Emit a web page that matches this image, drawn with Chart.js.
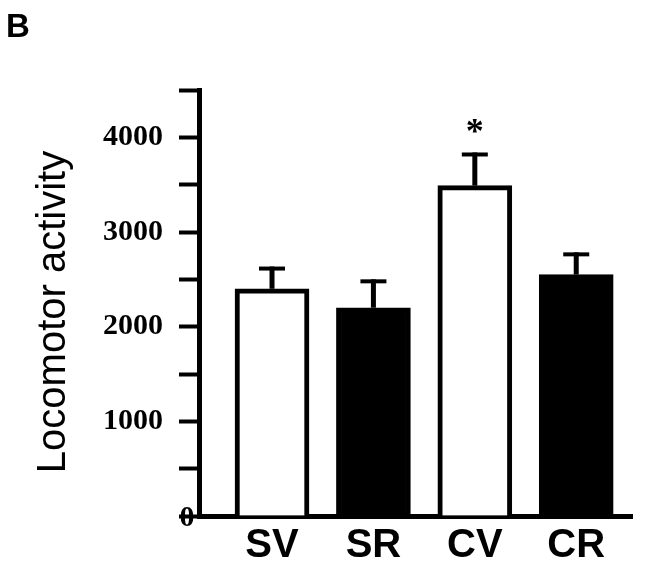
<!DOCTYPE html>
<html>
<head>
<meta charset="utf-8">
<script src="https://cdn.jsdelivr.net/npm/chart.js@4/dist/chart.umd.min.js"></script>
<style>
  html, body { margin: 0; padding: 0; background: #fff; }
  #wrap { width: 650px; height: 570px; position: relative; }
</style>
</head>
<body>
<div id="wrap"><canvas id="barChart"></canvas></div>
<script>
// Locomotor activity per group (mean + SEM)
const categories = ['SV', 'SR', 'CV', 'CR'];
const means = [2400, 2200, 3490, 2550];
const sems = [235, 300, 350, 235];
const fills = ['#ffffff', '#000000', '#ffffff', '#000000'];
const significant = [false, false, true, false];

const yMax = 4500;
const yStep = 500;

// error bars, asterisk and the loose text bits
const extras = {
    id: 'extras',
    afterDatasetsDraw(chart) {
        const c = chart.ctx;
        const xs = chart.scales.x;
        const ys = chart.scales.y;
        c.save();
        c.strokeStyle = '#000';
        c.fillStyle = '#000';
        means.forEach((m, i) => {
            let x = xs.getPixelForValue(i);
            let yBar = ys.getPixelForValue(m);
            let yTop = ys.getPixelForValue(m + sems[i]);
            c.lineWidth = 5;
            c.beginPath();
            c.moveTo(x, yBar);
            c.lineTo(x, yTop);
            c.stroke();
            c.lineWidth = 4;
            c.beginPath();
            c.moveTo(x - 13, yTop + 2);
            c.lineTo(x + 13, yTop + 2);
            c.stroke();
            if (significant[i]) {
                c.font = 'bold 36px "Liberation Serif"';
                c.textAlign = 'center';
                c.textBaseline = 'alphabetic';
                c.fillText('*', x, yTop - 9);
            }
        });

        // zero label sits on the axis corner
        c.font = 'bold 30px "Liberation Serif"';
        c.textAlign = 'center';
        c.textBaseline = 'middle';
        c.fillText('0', ys.right - 12, ys.getPixelForValue(0) + 2);

        // panel letter
        c.font = 'bold 33px "Liberation Sans"';
        c.textAlign = 'left';
        c.textBaseline = 'alphabetic';
        c.fillText('B', 6, 37);

        // y axis title
        c.translate(65, 312);
        c.rotate(-Math.PI / 2);
        c.font = '40px "Liberation Sans"';
        c.textAlign = 'center';
        c.fillText('Locomotor activity', 0, 0);
        c.restore();
    }
};

new Chart(document.getElementById('barChart'), {
    type: 'bar',
    data: {
        datasets: [{
            data: means.map((m, i) => ({ x: i, y: m })),
            backgroundColor: fills,
            borderColor: '#000',
            borderWidth: 5,
            barThickness: 74
        }]
    },
    plugins: [extras],
    options: {
        responsive: true,
        maintainAspectRatio: false,
        animation: false,
        layout: { padding: { top: 90, right: 18, left: 0, bottom: 0 } },
        plugins: {
            legend: { display: false },
            tooltip: { enabled: false }
        },
        scales: {
            x: {
                type: 'linear',
                min: -0.72,
                max: 3.55,
                offset: false,
                afterFit: (s) => { s.height = 54; },
                grid: { display: true, offset: false, drawOnChartArea: false, drawTicks: false },
                border: { display: true, width: 5, color: '#000' },
                ticks: {
                    stepSize: 1,
                    includeBounds: false,
                    autoSkip: false,
                    maxRotation: 0,
                    padding: 6,
                    color: '#000',
                    font: { family: 'Liberation Sans', size: 40, weight: 'bold' },
                    callback: (v) => Number.isInteger(v) && categories[v] ? categories[v] : ''
                }
            },
            y: {
                min: 0,
                max: yMax,
                afterFit: (s) => { s.width = 199; },
                grid: { drawOnChartArea: false, drawTicks: true, tickLength: 20, tickWidth: 4, color: '#000' },
                border: { display: true, width: 5, color: '#000' },
                ticks: {
                    stepSize: yStep,
                    padding: 16,
                    color: '#000',
                    font: { family: 'Liberation Serif', size: 30, weight: 'bold' },
                    callback: (v) => (v % 1000 === 0 && v > 0) ? String(v) : ''
                }
            }
        }
    }
});
</script>
</body>
</html>
